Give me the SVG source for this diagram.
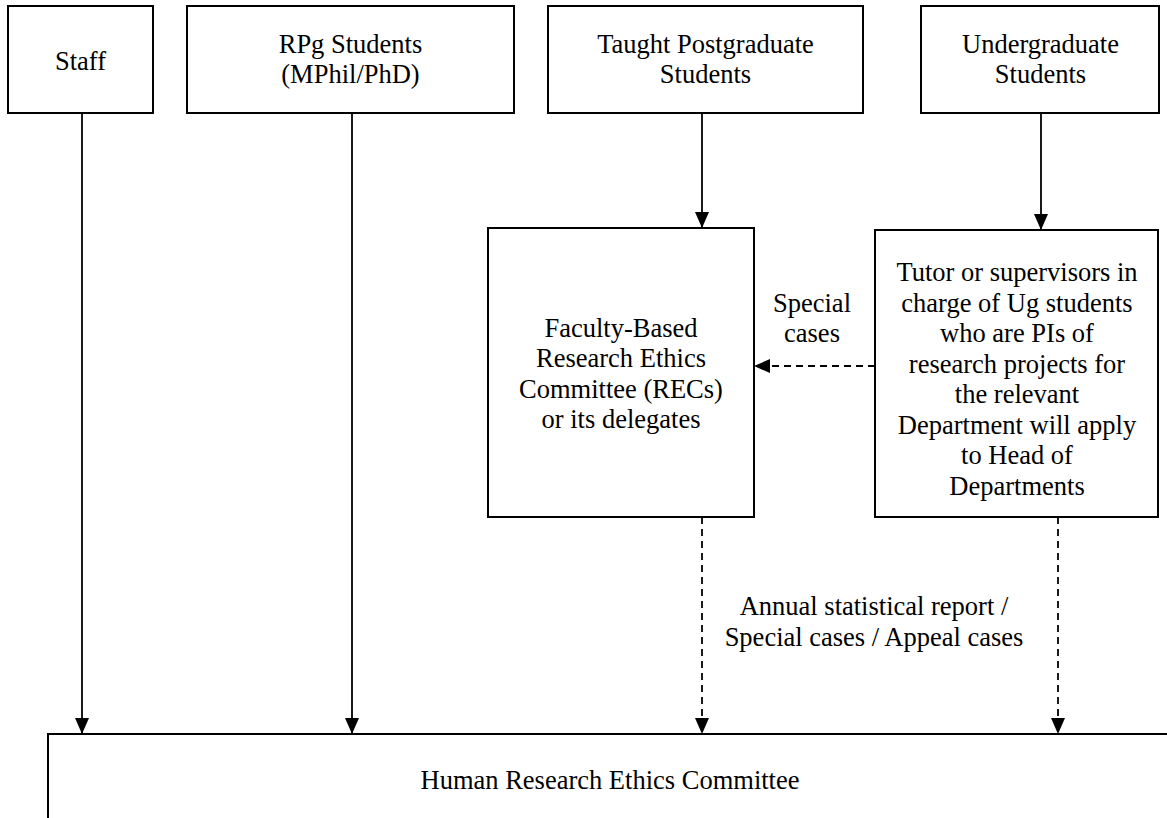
<svg xmlns="http://www.w3.org/2000/svg" width="1167" height="818" viewBox="0 0 1167 818">
<style>
.box{fill:#fff;stroke:#000;stroke-width:2}
.t{font-family:"Liberation Serif","Times New Roman",serif;font-size:26.5px;fill:#000;text-anchor:middle}
.c{stroke:#000;stroke-width:1.8;fill:none;marker-end:url(#ah)}
.d{stroke-dasharray:7 5}
</style>
<defs>
<marker id="ah" markerUnits="userSpaceOnUse" markerWidth="16" markerHeight="14" refX="16" refY="7" orient="auto">
<path d="M0,0 L16,7 L0,14 z" fill="#000"/>
</marker>
</defs>
<rect width="1167" height="818" fill="#fff"/>
<g id="staff">
<rect class="box" x="8" y="6" width="145" height="107"/>
<text class="t" x="80.5" y="70">Staff</text>
</g>
<g id="rpg">
<rect class="box" x="187" y="6" width="327" height="107"/>
<text class="t" x="350.5" y="53">RPg Students</text>
<text class="t" x="350.5" y="83">(MPhil/PhD)</text>
</g>
<g id="taught">
<rect class="box" x="548" y="6" width="315" height="107"/>
<text class="t" x="705.5" y="53">Taught Postgraduate</text>
<text class="t" x="705.5" y="83">Students</text>
</g>
<g id="undergrad">
<rect class="box" x="921" y="6" width="238" height="107"/>
<text class="t" x="1040.5" y="53">Undergraduate</text>
<text class="t" x="1040.5" y="83">Students</text>
</g>
<g id="faculty">
<rect class="box" x="488" y="228" width="266" height="289"/>
<text class="t" x="621" y="337">Faculty-Based</text>
<text class="t" x="621" y="367">Research Ethics</text>
<text class="t" x="621" y="397.5">Committee (RECs)</text>
<text class="t" x="621" y="428">or its delegates</text>
</g>
<g id="tutor">
<rect class="box" x="875" y="230" width="283" height="287"/>
<text class="t" x="1017" y="281">Tutor or supervisors in</text>
<text class="t" x="1017" y="311.5">charge of Ug students</text>
<text class="t" x="1017" y="342">who are PIs of</text>
<text class="t" x="1017" y="372.5">research projects for</text>
<text class="t" x="1017" y="403">the relevant</text>
<text class="t" x="1017" y="433.5">Department will apply</text>
<text class="t" x="1017" y="464">to Head of</text>
<text class="t" x="1017" y="494.5">Departments</text>
</g>
<g id="hrec">
<rect class="box" x="48" y="734" width="1200" height="200"/>
<text class="t" x="610" y="789">Human Research Ethics Committee</text>
</g>
<g id="connectors">
<line class="c" x1="82" y1="113" x2="82" y2="734"/>
<line class="c" x1="352" y1="113" x2="352" y2="734"/>
<line class="c" x1="702" y1="113" x2="702" y2="228"/>
<line class="c" x1="1041" y1="113" x2="1041" y2="230"/>
<line class="c d" x1="875" y1="366" x2="754" y2="366"/>
<line class="c d" x1="702" y1="517" x2="702" y2="734"/>
<line class="c d" x1="1058" y1="517" x2="1058" y2="734"/>
<text class="t" x="812" y="312">Special</text>
<text class="t" x="812" y="342">cases</text>
<text class="t" x="874" y="615">Annual statistical report /</text>
<text class="t" x="874" y="646">Special cases / Appeal cases</text>
</g>
</svg>
